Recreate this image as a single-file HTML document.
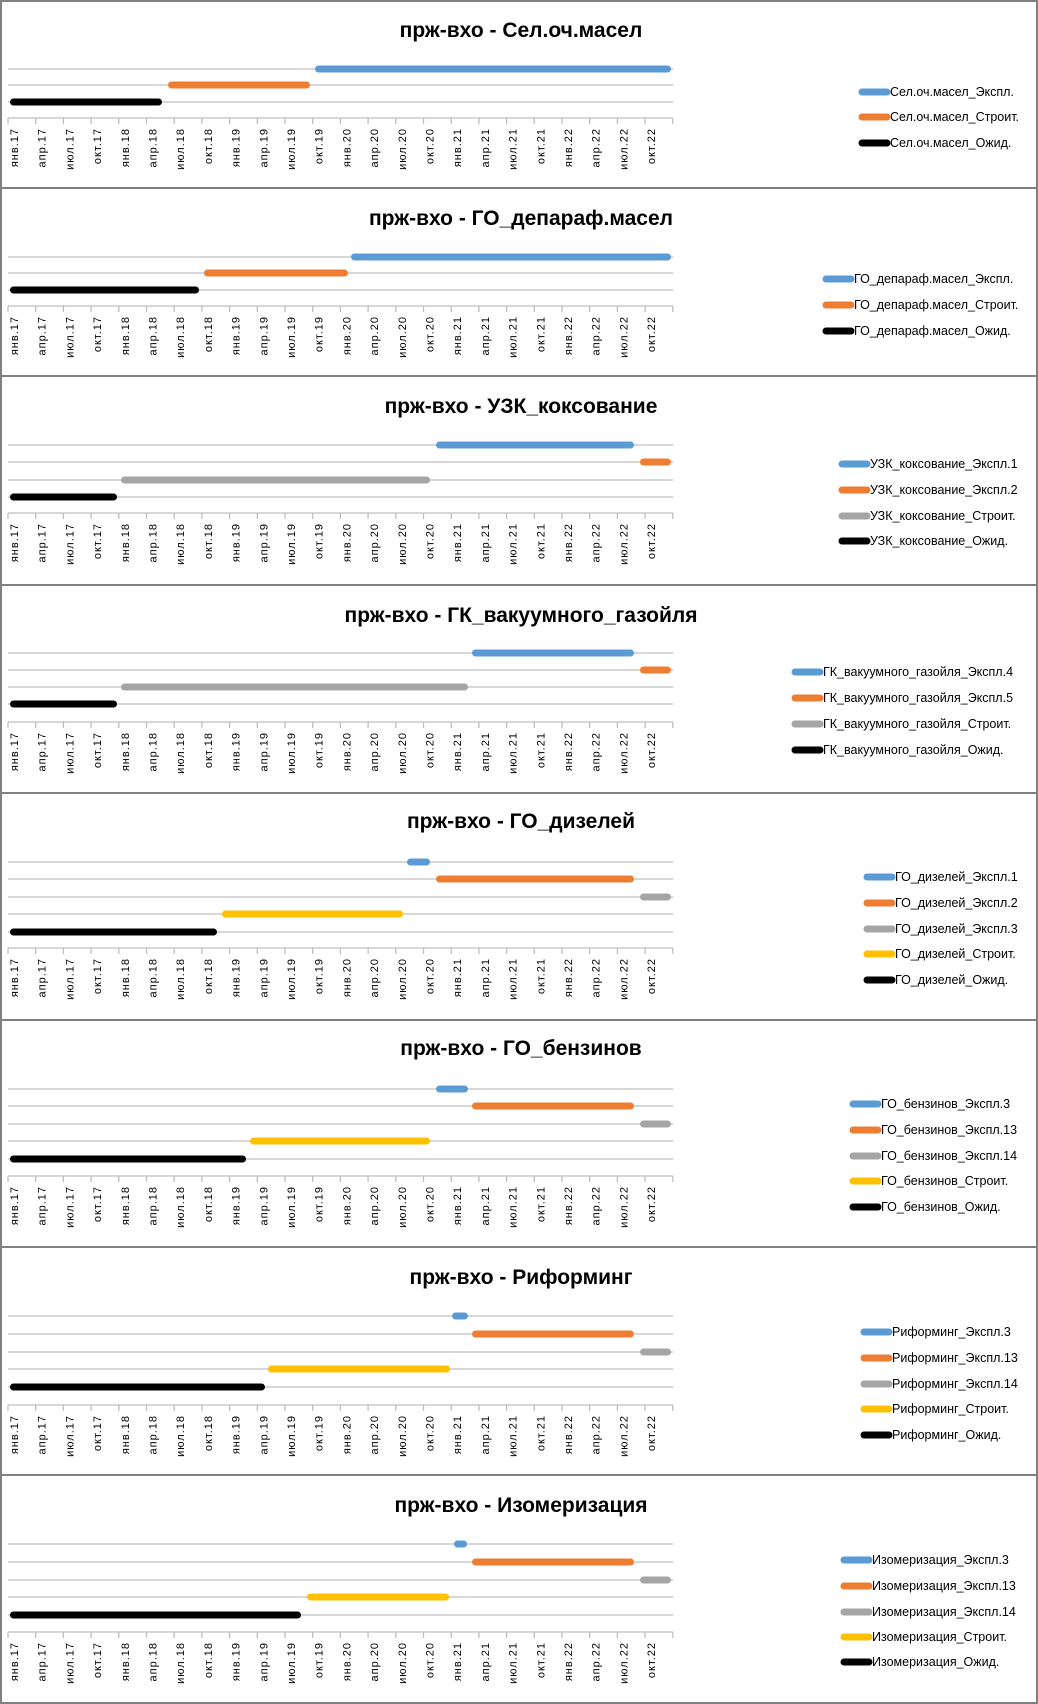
<!DOCTYPE html>
<html><head><meta charset="utf-8"><style>
html,body{margin:0;padding:0;background:#fff;}
svg{display:block;}
.t{font-family:"Liberation Sans",sans-serif;font-weight:bold;font-size:21px;fill:#000;}
.ax{font-family:"Liberation Sans",sans-serif;font-size:11px;fill:#000;letter-spacing:1px;}
.lg{font-family:"Liberation Sans",sans-serif;font-size:12.5px;fill:#000;}
.g{stroke:#bfbfbf;stroke-width:1.3;fill:none;}
.b{stroke-width:7;stroke-linecap:round;fill:none;}
</style></head><body>
<svg width="1038" height="1704" viewBox="0 0 1038 1704" xmlns="http://www.w3.org/2000/svg">
<defs>
<g id="axis">
<path class="g" d="M8 0H673M8 0v6M35.7 0v6M63.4 0v6M91.1 0v6M118.8 0v6M146.5 0v6M174.2 0v6M201.9 0v6M229.6 0v6M257.3 0v6M285 0v6M312.7 0v6M340.4 0v6M368.1 0v6M395.8 0v6M423.5 0v6M451.2 0v6M478.9 0v6M506.6 0v6M534.3 0v6M562 0v6M589.7 0v6M617.4 0v6M645.1 0v6M672.8 0v6"/>
<g class="ax" text-anchor="end">
<text transform="translate(18 10) rotate(-90)">янв.17</text>
<text transform="translate(45.7 10) rotate(-90)">апр.17</text>
<text transform="translate(73.4 10) rotate(-90)">июл.17</text>
<text transform="translate(101.1 10) rotate(-90)">окт.17</text>
<text transform="translate(128.8 10) rotate(-90)">янв.18</text>
<text transform="translate(156.5 10) rotate(-90)">апр.18</text>
<text transform="translate(184.2 10) rotate(-90)">июл.18</text>
<text transform="translate(211.9 10) rotate(-90)">окт.18</text>
<text transform="translate(239.6 10) rotate(-90)">янв.19</text>
<text transform="translate(267.3 10) rotate(-90)">апр.19</text>
<text transform="translate(295 10) rotate(-90)">июл.19</text>
<text transform="translate(322.7 10) rotate(-90)">окт.19</text>
<text transform="translate(350.4 10) rotate(-90)">янв.20</text>
<text transform="translate(378.1 10) rotate(-90)">апр.20</text>
<text transform="translate(405.8 10) rotate(-90)">июл.20</text>
<text transform="translate(433.5 10) rotate(-90)">окт.20</text>
<text transform="translate(461.2 10) rotate(-90)">янв.21</text>
<text transform="translate(488.9 10) rotate(-90)">апр.21</text>
<text transform="translate(516.6 10) rotate(-90)">июл.21</text>
<text transform="translate(544.3 10) rotate(-90)">окт.21</text>
<text transform="translate(572 10) rotate(-90)">янв.22</text>
<text transform="translate(599.7 10) rotate(-90)">апр.22</text>
<text transform="translate(627.4 10) rotate(-90)">июл.22</text>
<text transform="translate(655.1 10) rotate(-90)">окт.22</text>
</g>
</g>
</defs>
<rect x="1" y="1" width="1036" height="1702" fill="#fff" stroke="#808080" stroke-width="2"/>
<path d="M0 188H1038M0 376H1038M0 585H1038M0 793H1038M0 1020H1038M0 1247H1038M0 1475H1038" stroke="#808080" stroke-width="2"/>

<g transform="translate(0 0)">
<text class="t" x="521" y="37" text-anchor="middle">прж-вхо - Сел.оч.масел</text>
<path class="g" d="M8 69H673M8 85H673M8 102H673"/>
<use href="#axis" y="118"/>
<path class="b" stroke="#5b9bd5" d="M318.5 69H667.5"/>
<path class="b" stroke="#ed7d31" d="M171.5 85H306.5"/>
<path class="b" stroke="#000" d="M13.5 102H158.5"/>
<g class="lg">
<path class="b" stroke-width="5" stroke="#5b9bd5" d="M862 92H887"/><text x="890" y="96">Сел.оч.масел_Экспл.</text>
<path class="b" stroke-width="5" stroke="#ed7d31" d="M862 117H887"/><text x="890" y="121">Сел.оч.масел_Строит.</text>
<path class="b" stroke-width="5" stroke="#000" d="M862 143H887"/><text x="890" y="147">Сел.оч.масел_Ожид.</text>
</g>
</g>

<g transform="translate(0 188)">
<text class="t" x="521" y="37" text-anchor="middle">прж-вхо - ГО_депараф.масел</text>
<path class="g" d="M8 69H673M8 85H673M8 102H673"/>
<use href="#axis" y="118"/>
<path class="b" stroke="#5b9bd5" d="M354.5 69H667.5"/>
<path class="b" stroke="#ed7d31" d="M207.5 85H344.5"/>
<path class="b" stroke="#000" d="M13.5 102H195.5"/>
<g class="lg">
<path class="b" stroke-width="5" stroke="#5b9bd5" d="M826 91H851"/><text x="854" y="95">ГО_депараф.масел_Экспл.</text>
<path class="b" stroke-width="5" stroke="#ed7d31" d="M826 117H851"/><text x="854" y="121">ГО_депараф.масел_Строит.</text>
<path class="b" stroke-width="5" stroke="#000" d="M826 143H851"/><text x="854" y="147">ГО_депараф.масел_Ожид.</text>
</g>
</g>

<g transform="translate(0 376)">
<text class="t" x="521" y="37" text-anchor="middle">прж-вхо - УЗК_коксование</text>
<path class="g" d="M8 69H673M8 86H673M8 104H673M8 121H673"/>
<use href="#axis" y="137"/>
<path class="b" stroke="#5b9bd5" d="M439.5 69H630.5"/>
<path class="b" stroke="#ed7d31" d="M643.5 86H667.5"/>
<path class="b" stroke="#a5a5a5" d="M124.5 104H426.5"/>
<path class="b" stroke="#000" d="M13.5 121H113.5"/>
<g class="lg">
<path class="b" stroke-width="5" stroke="#5b9bd5" d="M842 88H867"/><text x="870" y="92">УЗК_коксование_Экспл.1</text>
<path class="b" stroke-width="5" stroke="#ed7d31" d="M842 114H867"/><text x="870" y="118">УЗК_коксование_Экспл.2</text>
<path class="b" stroke-width="5" stroke="#a5a5a5" d="M842 140H867"/><text x="870" y="144">УЗК_коксование_Строит.</text>
<path class="b" stroke-width="5" stroke="#000" d="M842 165H867"/><text x="870" y="169">УЗК_коксование_Ожид.</text>
</g>
</g>

<g transform="translate(0 585)">
<text class="t" x="521" y="37" text-anchor="middle">прж-вхо - ГК_вакуумного_газойля</text>
<path class="g" d="M8 68H673M8 85H673M8 102H673M8 119H673"/>
<use href="#axis" y="137"/>
<path class="b" stroke="#5b9bd5" d="M475.5 68H630.5"/>
<path class="b" stroke="#ed7d31" d="M643.5 85H667.5"/>
<path class="b" stroke="#a5a5a5" d="M124.5 102H464.5"/>
<path class="b" stroke="#000" d="M13.5 119H113.5"/>
<g class="lg">
<path class="b" stroke-width="5" stroke="#5b9bd5" d="M795 87H820"/><text x="823" y="91">ГК_вакуумного_газойля_Экспл.4</text>
<path class="b" stroke-width="5" stroke="#ed7d31" d="M795 113H820"/><text x="823" y="117">ГК_вакуумного_газойля_Экспл.5</text>
<path class="b" stroke-width="5" stroke="#a5a5a5" d="M795 139H820"/><text x="823" y="143">ГК_вакуумного_газойля_Строит.</text>
<path class="b" stroke-width="5" stroke="#000" d="M795 165H820"/><text x="823" y="169">ГК_вакуумного_газойля_Ожид.</text>
</g>
</g>

<g transform="translate(0 793)">
<text class="t" x="521" y="35" text-anchor="middle">прж-вхо - ГО_дизелей</text>
<path class="g" d="M8 69H673M8 86H673M8 104H673M8 121H673M8 139H673"/>
<use href="#axis" y="155"/>
<path class="b" stroke="#5b9bd5" d="M410.5 69H426.5"/>
<path class="b" stroke="#ed7d31" d="M439.5 86H630.5"/>
<path class="b" stroke="#a5a5a5" d="M643.5 104H667.5"/>
<path class="b" stroke="#ffc000" d="M225.5 121H399.5"/>
<path class="b" stroke="#000" d="M13.5 139H213.5"/>
<g class="lg">
<path class="b" stroke-width="5" stroke="#5b9bd5" d="M867 84H892"/><text x="895" y="88">ГО_дизелей_Экспл.1</text>
<path class="b" stroke-width="5" stroke="#ed7d31" d="M867 110H892"/><text x="895" y="114">ГО_дизелей_Экспл.2</text>
<path class="b" stroke-width="5" stroke="#a5a5a5" d="M867 136H892"/><text x="895" y="140">ГО_дизелей_Экспл.3</text>
<path class="b" stroke-width="5" stroke="#ffc000" d="M867 161H892"/><text x="895" y="165">ГО_дизелей_Строит.</text>
<path class="b" stroke-width="5" stroke="#000" d="M867 187H892"/><text x="895" y="191">ГО_дизелей_Ожид.</text>
</g>
</g>

<g transform="translate(0 1020)">
<text class="t" x="521" y="35" text-anchor="middle">прж-вхо - ГО_бензинов</text>
<path class="g" d="M8 69H673M8 86H673M8 104H673M8 121H673M8 139H673"/>
<use href="#axis" y="156"/>
<path class="b" stroke="#5b9bd5" d="M439.5 69H464.5"/>
<path class="b" stroke="#ed7d31" d="M475.5 86H630.5"/>
<path class="b" stroke="#a5a5a5" d="M643.5 104H667.5"/>
<path class="b" stroke="#ffc000" d="M253.5 121H426.5"/>
<path class="b" stroke="#000" d="M13.5 139H242.5"/>
<g class="lg">
<path class="b" stroke-width="5" stroke="#5b9bd5" d="M853 84H878"/><text x="881" y="88">ГО_бензинов_Экспл.3</text>
<path class="b" stroke-width="5" stroke="#ed7d31" d="M853 110H878"/><text x="881" y="114">ГО_бензинов_Экспл.13</text>
<path class="b" stroke-width="5" stroke="#a5a5a5" d="M853 136H878"/><text x="881" y="140">ГО_бензинов_Экспл.14</text>
<path class="b" stroke-width="5" stroke="#ffc000" d="M853 161H878"/><text x="881" y="165">ГО_бензинов_Строит.</text>
<path class="b" stroke-width="5" stroke="#000" d="M853 187H878"/><text x="881" y="191">ГО_бензинов_Ожид.</text>
</g>
</g>

<g transform="translate(0 1247)">
<text class="t" x="521" y="37" text-anchor="middle">прж-вхо - Риформинг</text>
<path class="g" d="M8 69H673M8 87H673M8 105H673M8 122H673M8 140H673"/>
<use href="#axis" y="158"/>
<path class="b" stroke="#5b9bd5" d="M455.5 69H464.5"/>
<path class="b" stroke="#ed7d31" d="M475.5 87H630.5"/>
<path class="b" stroke="#a5a5a5" d="M643.5 105H667.5"/>
<path class="b" stroke="#ffc000" d="M271.5 122H446.5"/>
<path class="b" stroke="#000" d="M13.5 140H261.5"/>
<g class="lg">
<path class="b" stroke-width="5" stroke="#5b9bd5" d="M864 85H889"/><text x="892" y="89">Риформинг_Экспл.3</text>
<path class="b" stroke-width="5" stroke="#ed7d31" d="M864 111H889"/><text x="892" y="115">Риформинг_Экспл.13</text>
<path class="b" stroke-width="5" stroke="#a5a5a5" d="M864 137H889"/><text x="892" y="141">Риформинг_Экспл.14</text>
<path class="b" stroke-width="5" stroke="#ffc000" d="M864 162H889"/><text x="892" y="166">Риформинг_Строит.</text>
<path class="b" stroke-width="5" stroke="#000" d="M864 188H889"/><text x="892" y="192">Риформинг_Ожид.</text>
</g>
</g>

<g transform="translate(0 1475)">
<text class="t" x="521" y="37" text-anchor="middle">прж-вхо - Изомеризация</text>
<path class="g" d="M8 69H673M8 87H673M8 105H673M8 122H673M8 140H673"/>
<use href="#axis" y="157"/>
<path class="b" stroke="#5b9bd5" d="M457.5 69H463.5"/>
<path class="b" stroke="#ed7d31" d="M475.5 87H630.5"/>
<path class="b" stroke="#a5a5a5" d="M643.5 105H667.5"/>
<path class="b" stroke="#ffc000" d="M310.5 122H445.5"/>
<path class="b" stroke="#000" d="M13.5 140H297.5"/>
<g class="lg">
<path class="b" stroke-width="5" stroke="#5b9bd5" d="M844 85H869"/><text x="872" y="89">Изомеризация_Экспл.3</text>
<path class="b" stroke-width="5" stroke="#ed7d31" d="M844 111H869"/><text x="872" y="115">Изомеризация_Экспл.13</text>
<path class="b" stroke-width="5" stroke="#a5a5a5" d="M844 137H869"/><text x="872" y="141">Изомеризация_Экспл.14</text>
<path class="b" stroke-width="5" stroke="#ffc000" d="M844 162H869"/><text x="872" y="166">Изомеризация_Строит.</text>
<path class="b" stroke-width="5" stroke="#000" d="M844 187H869"/><text x="872" y="191">Изомеризация_Ожид.</text>
</g>
</g>
</svg>
</body></html>
